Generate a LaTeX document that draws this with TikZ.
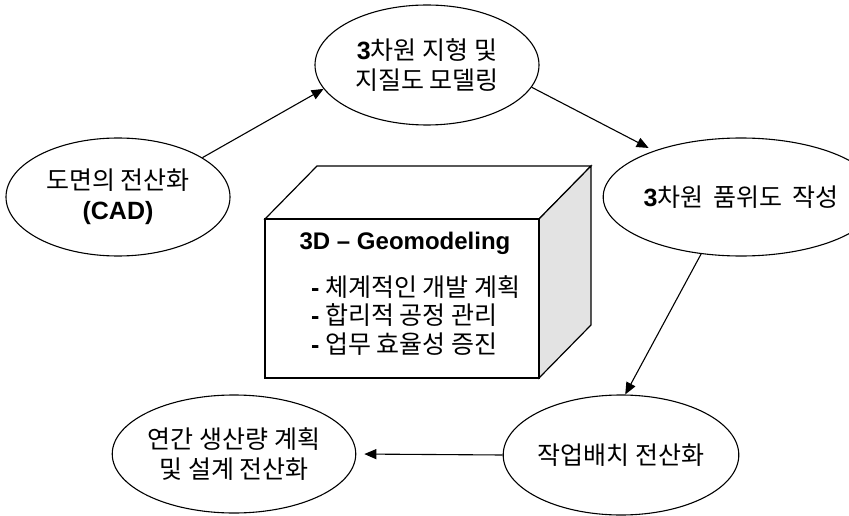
\documentclass[tikz,border=0pt]{standalone}
\usepackage{fontspec}
\setmainfont{Noto Sans CJK KR}
\newfontfamily\lat{Liberation Sans}
\usetikzlibrary{shapes.geometric,arrows.meta}
\tikzset{
  oval/.style={draw=black, line width=1.1pt, shape=ellipse, inner sep=0pt,
    minimum width=224pt, minimum height=118pt, align=center,
    font=\fontsize{25}{30}\selectfont},
  flow/.style={draw=black, line width=1.1pt, -{Triangle[length=12pt,width=10pt]}},
  boxline/.style={draw=black, line width=1.2pt, line join=miter},
}
\begin{document}
\begin{tikzpicture}[x=1pt,y=-1pt]
\useasboundingbox (0,0) rectangle (849,516);
% 3D box
\coordinate (f1) at (265,219);
\coordinate (f2) at (539,219);
\coordinate (f3) at (539,378);
\coordinate (f4) at (265,378);
\coordinate (b1) at (317,166);
\coordinate (b2) at (591,166);
\coordinate (b3) at (591,325);
\path[boxline, fill=white] (f1) -- (b1) -- (b2) -- (f2) -- cycle;
\path[boxline, fill=gray!22] (f2) -- (b2) -- (b3) -- (f3) -- cycle;
\path[boxline, fill=white] (f1) rectangle (f3);
\node[font=\lat\bfseries\fontsize{24}{28}\selectfont] (title) at (405,243) {3D – Geomodeling};
\node[anchor=north west, align=left, inner sep=0pt,
      font=\fontsize{25}{28.5}\selectfont] (list) at (311,275)
  {{\lat\bfseries -} 체계적인 개발 계획\\{\lat\bfseries -} 합리적 공정 관리\\{\lat\bfseries -} 업무 효율성 증진};
% ellipses
\node[oval] (cad) at (118,197) {도면의 전산화\\{\lat\bfseries (CAD)}};
\node[oval, minimum height=120pt] (geo) at (427,65) {{\lat\bfseries 3}차원 지형 및\\지질도 모델링};
\node[oval, minimum width=216pt] (grade) at (741,197) {{\lat\bfseries 3}차원\hspace{10pt}품위도\hspace{10pt}작성};
\node[oval, minimum height=120pt] (work) at (621,455) {작업배치 전산화};
\node[oval] (plan) at (234,454) {연간 생산량 계획\\및 설계 전산화};
% connectors
\draw[flow] (cad.25) -- (geo.193);
\draw[flow, shorten >=6pt] (geo.-12) -- (grade.152);
\draw[flow] (grade.235) -- (work.86);
\draw[flow, shorten >=8pt] (work.west) -- (plan.east);
\end{tikzpicture}
\end{document}
